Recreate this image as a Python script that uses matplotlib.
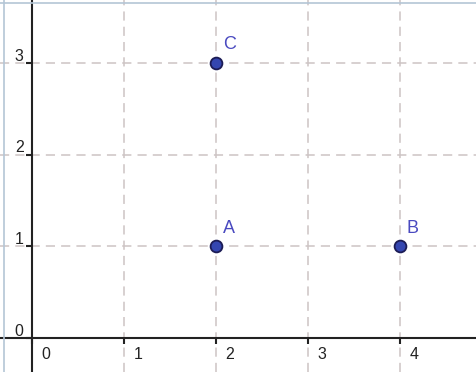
import matplotlib
matplotlib.use("Agg")
import matplotlib.pyplot as plt

plt.rcParams['font.family'] = ['Liberation Sans', 'DejaVu Sans']

# points
names = ['A', 'B', 'C']
xs = [2, 4, 2]
ys = [1, 1, 3]

x_ticks = [0, 1, 2, 3, 4]
y_ticks = [0, 1, 2, 3]

fig = plt.figure(figsize=(4.76, 3.72), dpi=100)
fig.patch.set_facecolor('white')
ax = fig.add_axes([0, 0, 1, 1])
ax.set_xlim(-0.348, 4.826)
ax.set_ylim(-0.37, 3.69)

# grid
for xv in x_ticks[1:]:
    ax.axvline(xv, color='#cdc4c4', lw=1.1, ls=(0, (6, 4)), zorder=1)
for yv in y_ticks[1:]:
    ax.axhline(yv, color='#cdc4c4', lw=1.1, ls=(0, (6, 4)), zorder=1)

# axes through origin
for s in ['top', 'right']:
    ax.spines[s].set_visible(False)
ax.spines['left'].set_position(('data', 0))
ax.spines['bottom'].set_position(('data', 0))
ax.spines['left'].set_linewidth(1.5)
ax.spines['bottom'].set_linewidth(1.5)
ax.spines['left'].set_color('#222222')
ax.spines['bottom'].set_color('#222222')
ax.set_xticks(x_ticks)
ax.set_yticks(y_ticks)
ax.tick_params(direction='out', length=4, width=1.5, color='#222222',
               labelbottom=False, labelleft=False)

for xv in x_ticks:
    ax.annotate(str(xv), (xv, 0), xytext=(7, -12), textcoords='offset points',
                ha='left', va='center', fontsize=11.5, color='#222222')
for yv in y_ticks:
    ax.annotate(str(yv), (0, yv), xytext=(-6, 5), textcoords='offset points',
                ha='right', va='center', fontsize=11.5, color='#222222')

# points and labels
ax.plot(xs, ys, 'o', ms=8.5, mfc='#3446b0', mec='#1c1c55', mew=1.3, zorder=5)
for n, x, y in zip(names, xs, ys):
    ax.annotate(n, (x, y), xytext=(5, 7), textcoords='offset points',
                ha='left', va='bottom', fontsize=13, color='#4a4ac0')

# light frame on top and left
fig.add_artist(plt.Line2D([0, 1], [0.993, 0.993], color='#b4c6d6', lw=1.2))
fig.add_artist(plt.Line2D([0.008, 0.008], [0, 1], color='#b4c6d6', lw=1.2))

fig.savefig('out.png', dpi=100, facecolor='white')
